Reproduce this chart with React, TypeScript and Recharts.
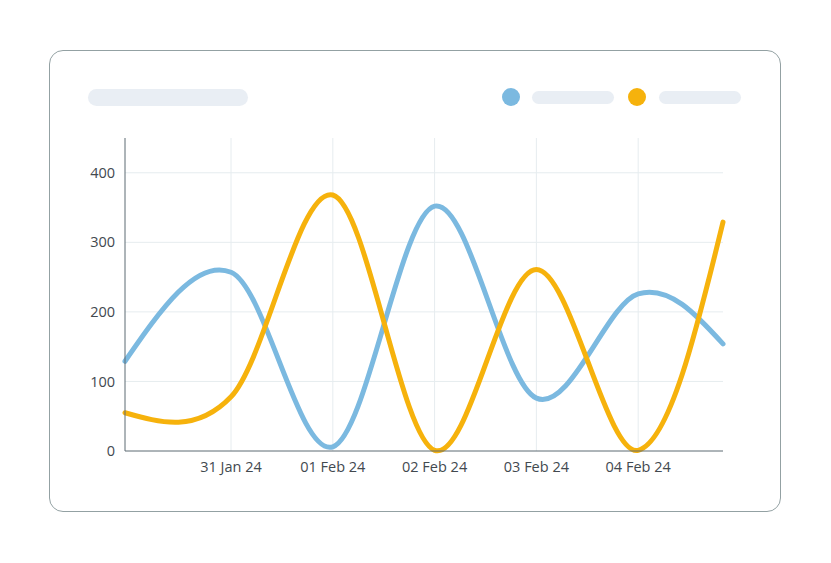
import React from 'react';
import { LineChart, Line, XAxis, YAxis, CartesianGrid } from 'recharts';

// hours counted from 30 Jan 24 00:00
const hours = [-1, 24, 48, 72, 96, 120, 140];
const blueValues = [129, 257, 6, 352, 76, 226, 154];
const orangeValues = [55, 78, 368, 1, 261, 1, 329];

const dayTicks = [24, 48, 72, 96, 120];
const dayLabels = ['31 Jan 24', '01 Feb 24', '02 Feb 24', '03 Feb 24', '04 Feb 24'];
const valueTicks = [0, 100, 200, 300, 400];

const X_DOMAIN = [-1, 140];
const Y_DOMAIN = [0, 450];

const BLUE = '#7bb9e0';
const ORANGE = '#f6b20c';
const PILL = '#e9eef4';
const AXIS = '#5c6b73';
const TEXT = '#42494f';

const data = hours.map((h, i) => ({ h, blue: blueValues[i], orange: orangeValues[i] }));

const labelFor = (v: number) => dayLabels[dayTicks.indexOf(v)] ?? '';

// cubic hermite spline: catmull-rom tangents inside, natural (zero curvature) ends
class SmoothCurve {
  _context: any;
  _pts: number[][] = [];
  constructor(context: any) {
    this._context = context;
  }
  areaStart() {}
  areaEnd() {}
  lineStart() {
    this._pts = [];
  }
  lineEnd() {
    const p = this._pts;
    const c = this._context;
    const n = p.length;
    if (!n) return;
    c.moveTo(p[0][0], p[0][1]);
    if (n === 1) return;
    if (n === 2) {
      c.lineTo(p[1][0], p[1][1]);
      return;
    }
    const m: number[][] = p.map((pt, i) => {
      if (i === 0 || i === n - 1) return [0, 0];
      return [(p[i + 1][0] - p[i - 1][0]) / 2, (p[i + 1][1] - p[i - 1][1]) / 2];
    });
    m[0] = [0, 1].map((k) => (3 * (p[1][k] - p[0][k]) - m[1][k]) / 2);
    m[n - 1] = [0, 1].map((k) => (3 * (p[n - 1][k] - p[n - 2][k]) - m[n - 2][k]) / 2);
    for (let i = 0; i < n - 1; i++) {
      c.bezierCurveTo(
        p[i][0] + m[i][0] / 3,
        p[i][1] + m[i][1] / 3,
        p[i + 1][0] - m[i + 1][0] / 3,
        p[i + 1][1] - m[i + 1][1] / 3,
        p[i + 1][0],
        p[i + 1][1],
      );
    }
  }
  point(x: number, y: number) {
    this._pts.push([+x, +y]);
  }
}
const smooth = (context: any) => new SmoothCurve(context);

// grid only at the inner ticks (no line on top / right edge)
const gridRows = ({ offset }: any) =>
  valueTicks.slice(1).map((v) => offset.top + offset.height * (1 - (v - Y_DOMAIN[0]) / (Y_DOMAIN[1] - Y_DOMAIN[0])));
const gridCols = ({ offset }: any) =>
  dayTicks.map((v) => offset.left + (offset.width * (v - X_DOMAIN[0])) / (X_DOMAIN[1] - X_DOMAIN[0]));

const tickStyle = { fill: TEXT, fontSize: 14.5, fontFamily: 'Open Sans' };

const App = () => {
  return (
    <div style={{ position: 'absolute', left: 0, top: 0, width: 831, height: 563, background: '#fff' }}>
      <div
        style={{
          position: 'absolute',
          left: 49,
          top: 50,
          width: 730,
          height: 460,
          border: '1px solid #93a1a3',
          borderRadius: 14,
        }}
      />
      {/* title / legend placeholders */}
      <div style={{ position: 'absolute', left: 88, top: 89, width: 160, height: 17, borderRadius: 9, background: PILL }} />
      <div style={{ position: 'absolute', left: 502, top: 88, width: 18, height: 18, borderRadius: 9, background: BLUE }} />
      <div style={{ position: 'absolute', left: 532, top: 91, width: 82, height: 13, borderRadius: 7, background: PILL }} />
      <div style={{ position: 'absolute', left: 628, top: 88, width: 18, height: 18, borderRadius: 9, background: ORANGE }} />
      <div style={{ position: 'absolute', left: 659, top: 91, width: 82, height: 13, borderRadius: 7, background: PILL }} />

      <div style={{ position: 'absolute', left: 0, top: 0 }}>
        <LineChart width={831} height={563} data={data} margin={{ top: 138, right: 108, bottom: 82, left: 85 }}>
          <CartesianGrid
            stroke="#e6ecef"
            strokeWidth={1}
            horizontalCoordinatesGenerator={gridRows}
            verticalCoordinatesGenerator={gridCols}
          />
          <XAxis
            dataKey="h"
            type="number"
            domain={X_DOMAIN}
            ticks={dayTicks}
            tickFormatter={labelFor}
            height={30}
            tickLine={false}
            tickSize={0}
            tickMargin={11}
            axisLine={{ stroke: AXIS, strokeWidth: 1 }}
            tick={tickStyle}
          />
          <YAxis
            type="number"
            domain={Y_DOMAIN}
            ticks={valueTicks}
            width={40}
            tickLine={false}
            tickSize={0}
            tickMargin={10}
            axisLine={{ stroke: AXIS, strokeWidth: 1 }}
            tick={tickStyle}
          />
          <Line
            dataKey="blue"
            type={smooth as any}
            stroke={BLUE}
            strokeWidth={5}
            strokeLinecap="round"
            dot={false}
            isAnimationActive={false}
          />
          <Line
            dataKey="orange"
            type={smooth as any}
            stroke={ORANGE}
            strokeWidth={5}
            strokeLinecap="round"
            dot={false}
            isAnimationActive={false}
          />
        </LineChart>
      </div>
    </div>
  );
};

export default App;
